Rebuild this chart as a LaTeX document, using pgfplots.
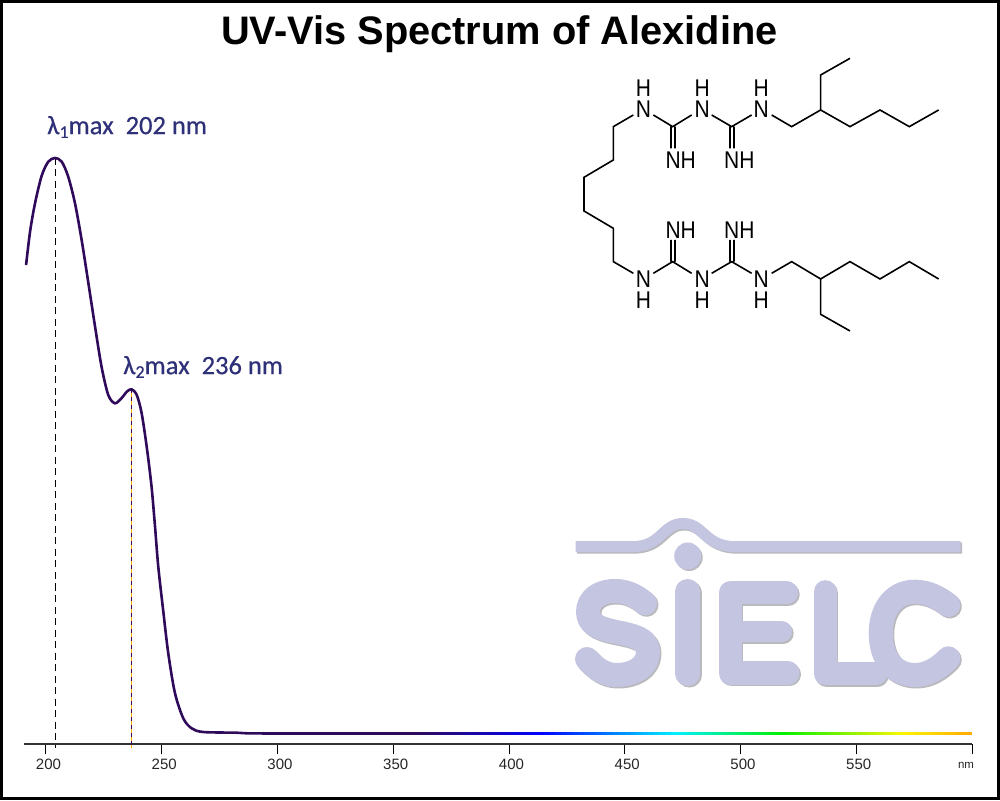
\documentclass[border=0pt]{standalone}
\usepackage{pgfplots}
\pgfplotsset{compat=1.18}
\usepackage{fontspec}
\setmainfont{Liberation Sans}
\newfontfamily\calib[RawFeature={embolden=0.5}]{Carlito}
\definecolor{curve}{RGB}{47,10,90}
\definecolor{lab}{RGB}{46,48,120}
\definecolor{logo}{RGB}{196,197,225}
\definecolor{logosh}{RGB}{185,185,190}
\definecolor{axc}{RGB}{50,50,50}
\definecolor{dashor}{RGB}{255,165,0}
\newcommand{\logopaths}[1]{%
  \begin{scope}[#1,line cap=round,line join=round]
    \draw[line width=11pt,line cap=butt] (575.7,546.7) -- (632,546.7) .. controls (662,546.7) and (662,523.5) .. (683,523.5) .. controls (704,523.5) and (704,546.7) .. (736,546.7) -- (960.5,546.7);
    \fill[draw=none] (687.7,556) circle (13.5pt);
    \draw[line width=25pt] (687.7,591.5) -- (687.7,673.5);
    \draw[line width=23pt] (786.7,593) -- (730,593) -- (730,673) -- (788,673);
    \draw[line width=21pt] (730,631.7) -- (781.7,631.7);
    \draw[line width=23pt] (825,591.7) -- (825,673.5) -- (876,673.5);
    \draw[line width=24pt] (948.3,605) .. controls (938,597) and (927,591.7) .. (915,591.7) .. controls (893,591.7) and (880.7,610) .. (880.7,633.3) .. controls (880.7,657) and (893,675) .. (915,675) .. controls (928,675) and (939,668) .. (948.3,658.3);
    \draw[line width=24pt] (645,603.3) .. controls (635,595) and (626,591) .. (615,591) .. controls (598,591) and (588,600) .. (588,612) .. controls (588,640) and (648,625) .. (648,652) .. controls (648,667) and (633,675) .. (616.7,675) .. controls (604,675) and (595,668) .. (587,659);
  \end{scope}}
\begin{document}
\begin{tikzpicture}
\useasboundingbox (0,0) rectangle (1000pt,800pt);
\begin{scope}[x=1pt,y=-1pt,yshift=800pt]
  \logopaths{shift={(1.5,1.5)},draw=logosh,fill=logosh}
  \logopaths{draw=logo,fill=logo}
\end{scope}
\begin{axis}[
  at={(24pt,56pt)},anchor=south west,
  scale only axis,width=948pt,height=690pt,
  xmin=190.5,xmax=600,ymin=0,ymax=690,
  axis x line=bottom,axis y line=none,
  axis line style={-,color=axc,line width=1.4pt},
  xtick={200,250,...,600},
  xticklabels={200,250,300,350,400,450,500,550,},
  tick align=outside,major tick length=10pt,
  tick style={black,line width=1pt},
  xticklabel style={font=\fontsize{15}{15}\selectfont,xshift=2.5pt,text=black!85,yshift=-1.5pt},
  /pgf/number format/assume math mode=true,
  clip=false,
  colormap={spec}{rgb255(0pt)=(47,10,90); rgb255(54pt)=(0,0,255); rgb255(112pt)=(0,240,255); rgb255(158pt)=(0,240,0); rgb255(210pt)=(250,245,0); rgb255(240pt)=(255,170,0)},
  point meta min=360,point meta max=600,
]
\addplot[black,line width=1.2pt,dash pattern=on 7pt off 4.5pt] coordinates {(204.1,586) (204.1,-4)};
\addplot[dashor,line width=1.5pt] coordinates {(236.95,354.7) (236.95,-4)};
\addplot[curve,line width=1.5pt,dash pattern=on 4pt off 4pt] coordinates {(236.95,354.7) (236.95,-4)};
\addplot[curve,line width=2.6pt,smooth,tension=0.5] coordinates {
(191.4,479) (193.1,512) (195.2,540) (198.1,568) (201,582.3) (203.9,586) (206.8,582.3) (209.6,567.3) (212.5,541) (215.4,504) (218.3,461) (221.2,417.3) (224,377.3) (226.9,349) (229.8,340.7) (232.7,346) (235,352.5) (237,354.7) (239.2,349) (241.3,331) (243.5,297.3) (245.6,257.3) (247.1,217.3) (248.5,177.3) (250.6,134) (252.8,91) (255.7,51) (259.3,25.7) (262.9,15.7) (267.9,12) (282.3,11.3) (286.7,10.7) (300,10.5) (330,10.5) (360,10.5)};
\addplot[mesh,line width=3pt,point meta=x] coordinates {
(360,10.5) (362.5,10.5) (365,10.5) (367.5,10.5) (370,10.5) (372.5,10.5) (375,10.5) (377.5,10.5) (380,10.5) (382.5,10.5) (385,10.5) (387.5,10.5) (390,10.5) (392.5,10.5) (395,10.5) (397.5,10.5) (400,10.5) (402.5,10.5) (405,10.5) (407.5,10.5) (410,10.5) (412.5,10.5) (415,10.5) (417.5,10.5) (420,10.5) (422.5,10.5) (425,10.5) (427.5,10.5) (430,10.5) (432.5,10.5) (435,10.5) (437.5,10.5) (440,10.5) (442.5,10.5) (445,10.5) (447.5,10.5) (450,10.5) (452.5,10.5) (455,10.5) (457.5,10.5) (460,10.5) (462.5,10.5) (465,10.5) (467.5,10.5) (470,10.5) (472.5,10.5) (475,10.5) (477.5,10.5) (480,10.5) (482.5,10.5) (485,10.5) (487.5,10.5) (490,10.5) (492.5,10.5) (495,10.5) (497.5,10.5) (500,10.5) (502.5,10.5) (505,10.5) (507.5,10.5) (510,10.5) (512.5,10.5) (515,10.5) (517.5,10.5) (520,10.5) (522.5,10.5) (525,10.5) (527.5,10.5) (530,10.5) (532.5,10.5) (535,10.5) (537.5,10.5) (540,10.5) (542.5,10.5) (545,10.5) (547.5,10.5) (550,10.5) (552.5,10.5) (555,10.5) (557.5,10.5) (560,10.5) (562.5,10.5) (565,10.5) (567.5,10.5) (570,10.5) (572.5,10.5) (575,10.5) (577.5,10.5) (580,10.5) (582.5,10.5) (585,10.5) (587.5,10.5) (590,10.5) (592.5,10.5) (595,10.5) (597.5,10.5) (600,10.5)};
\end{axis}
\begin{scope}[x=1pt,y=-1pt,yshift=800pt]
  \draw[black,line width=3pt] (1.5,1.5) rectangle (998.5,798.5);
  \node[font=\bfseries\fontsize{39.8}{40}\selectfont] at (499.5,34) {UV-Vis Spectrum of Alexidine};
  \node[font=\fontsize{11.5}{12}\selectfont,text=black!85] at (966,765) {nm};
  \node[anchor=west,inner sep=0pt,text=lab,font=\calib\fontsize{26.5}{27}\selectfont] at (47,127) {λ\raisebox{-.3ex}{\fontsize{18}{18}\selectfont 1}max\ \ 202 nm};
  \node[anchor=west,inner sep=0pt,text=lab,font=\calib\fontsize{26.5}{27}\selectfont] at (123,367) {λ\raisebox{-.3ex}{\fontsize{18}{18}\selectfont 2}max\ \ 236 nm};
  \begin{scope}[shift={(570,50)},x=0.3333pt,y=-0.3333pt,line width=1.6pt,black,line join=miter,
      every node/.style={inner sep=0pt,text height=14.5pt,text depth=0pt,font=\fontsize{21}{21}\selectfont,yscale=1.15}]
    \draw (190,195)--(130,230)--(130,330)--(42,382)--(42,483)--(130,535)--(130,635)--(190,670);
    \draw (250,195)--(308,230)--(365,195) (303,230)--(303,295) (315,230)--(315,295);
    \draw (425,195)--(485,230)--(545,195) (480,230)--(480,295) (492,230)--(492,295);
    \draw (605,195)--(665,230)--(752,180)--(840,230)--(930,180)--(1018,230)--(1106,180);
    \draw (752,180)--(752,75)--(840,25);
    \draw (250,670)--(308,635)--(365,670) (303,570)--(303,635) (315,570)--(315,635);
    \draw (425,670)--(485,635)--(545,670) (480,570)--(480,635) (492,570)--(492,635);
    \draw (605,670)--(665,635)--(752,687)--(840,635)--(930,687)--(1018,635)--(1106,687);
    \draw (752,687)--(752,793)--(840,843);
    \foreach \p in {220,397,574}{
      \node[text height=,align=center] at (\p,146) {H\\[-2.5pt]N};
      \node[text height=,align=center] at (\p,719) {N\\[-2.5pt]H};
    }
    \foreach \p in {332,508}{
      \node at (\p,330) {NH};
      \node at (\p,540) {NH};
    }
  \end{scope}
\end{scope}
\end{tikzpicture}
\end{document}
